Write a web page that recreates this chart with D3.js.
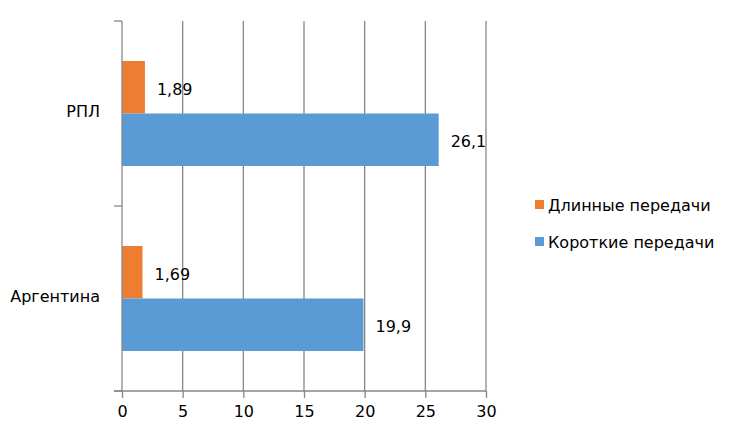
<!DOCTYPE html>
<html><head><meta charset="utf-8">
<script src="https://cdn.jsdelivr.net/npm/d3@7"></script>
<style>body{margin:0;background:#fff}text{font-family:"DejaVu Sans",Verdana,sans-serif;fill:#000}</style>
</head><body>
<svg id="c" width="730" height="437"></svg>
<script>
const categories = ["РПЛ", "Аргентина"];
const seriesNames = ["Длинные передачи", "Короткие передачи"];
const longPasses = [1.89, 1.69];
const shortPasses = [26.1, 19.9];
const labelsLong = ["1,89", "1,69"];
const labelsShort = ["26,1", "19,9"];
const xTicks = [0, 5, 10, 15, 20, 25, 30];
const colors = ["#ED7D31", "#5B9BD5"];

(function () {
const svg = d3.select("#c");
const pL = 122, pR = 486, pT = 21, pB = 391;
const fs = "16px";
const x = d3.scaleLinear().domain([0, 30]).range([pL, pR]);
const y = d3.scaleBand().domain(categories).range([pT, pB]);
const inner = d3.scaleBand().domain(seriesNames).range([40, y.bandwidth() - 40]);

const data = categories.map((c, i) => ({c, vals: [
  {s: seriesNames[0], v: longPasses[i], l: labelsLong[i]},
  {s: seriesNames[1], v: shortPasses[i], l: labelsShort[i]}]}));

// gridlines
svg.append("g").selectAll("line").data(xTicks.slice(1)).join("line")
  .attr("x1", d => x(d)).attr("x2", d => x(d)).attr("y1", pT).attr("y2", pB)
  .attr("stroke", "#878787").attr("stroke-width", 1.3);

const g = svg.selectAll("g.cat").data(data).join("g").attr("class", "cat")
  .attr("transform", d => `translate(0,${y(d.c)})`);
g.selectAll("rect").data(d => d.vals).join("rect")
  .attr("x", x(0)).attr("y", d => inner(d.s)).attr("height", inner.bandwidth())
  .attr("width", d => x(d.v) - x(0)).attr("fill", (d, i) => colors[i]);
g.selectAll("text.lbl").data(d => d.vals).join("text").attr("class", "lbl")
  .attr("x", d => x(d.v) + 12).attr("y", d => inner(d.s) + inner.bandwidth() / 2 + 3)
  .attr("dominant-baseline", "middle").style("font-size", fs).text(d => d.l);

// y axis
const yAxis = svg.append("g");
yAxis.append("line").attr("x1", pL).attr("x2", pL).attr("y1", pT).attr("y2", pB)
  .attr("stroke", "#878787").attr("stroke-width", 1.3);
const yTickPos = [pT, ...categories.map(c => y(c) + y.bandwidth())];
yAxis.selectAll("line.t").data(yTickPos).join("line").attr("class", "t")
  .attr("x1", pL - 8).attr("x2", pL).attr("y1", d => d).attr("y2", d => d)
  .attr("stroke", "#878787").attr("stroke-width", 1.3);
yAxis.selectAll("text").data(categories).join("text")
  .attr("x", 100).attr("y", d => y(d) + y.bandwidth() / 2 - 1).attr("text-anchor", "end")
  .attr("dominant-baseline", "middle").style("font-size", fs).text(d => d);

// x axis
const xa = svg.append("g").attr("transform", `translate(0,${pB})`)
  .call(d3.axisBottom(x).tickValues(xTicks).tickSize(7).tickPadding(8).tickFormat(d3.format("d")));
xa.select(".domain").attr("stroke", "#878787").attr("stroke-width", 1.3).attr("d", `M${pL - 8},0H${pR}`);
xa.selectAll(".tick line").attr("stroke", "#878787").attr("stroke-width", 1.3);
xa.selectAll(".tick text").style("font-size", fs).style("font-family", '"DejaVu Sans",Verdana,sans-serif').attr("fill", "#000");

// legend
const leg = svg.append("g").selectAll("g").data(seriesNames).join("g")
  .attr("transform", (d, i) => `translate(535,${205 + i * 37})`);
leg.append("rect").attr("x", 0).attr("y", -5).attr("width", 9).attr("height", 9).attr("fill", (d, i) => colors[i]);
leg.append("text").attr("x", 13).attr("y", 1).attr("dominant-baseline", "middle")
  .style("font-size", fs).text(d => d);
})();
</script>
</body></html>
